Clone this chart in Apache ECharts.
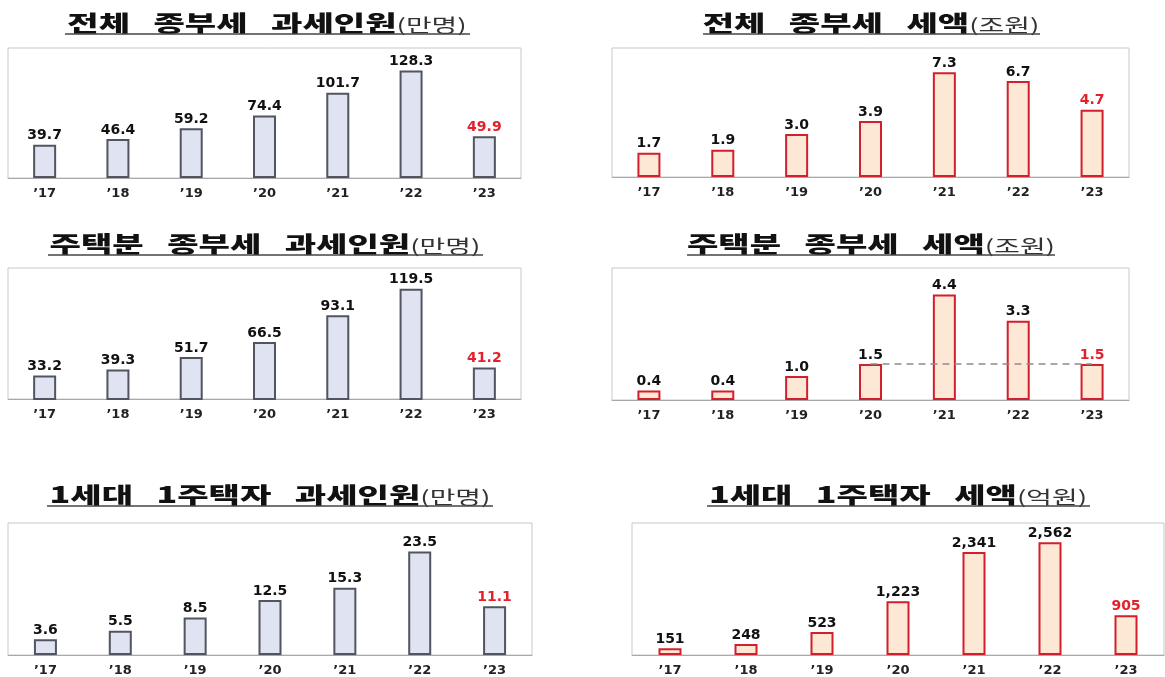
<!DOCTYPE html>
<html>
<head>
<meta charset="utf-8">
<script src="https://cdn.jsdelivr.net/npm/echarts@6/dist/echarts.min.js"></script>
<style>
  html, body { margin: 0; padding: 0; background: #fff; }
  #chart { width: 1165px; height: 677px; }
</style>
</head>
<body>
<div id="chart"></div>
<script>
// 연도
const years = ['\u201917', '\u201918', '\u201919', '\u201920', '\u201921', '\u201922', '\u201923']

// 값
const totalPeople = [39.7, 46.4, 59.2, 74.4, 101.7, 128.3, 49.9]   // 만명
const totalTax = [1.7, 1.9, 3.0, 3.9, 7.3, 6.7, 4.7]              // 조원
const housePeople = [33.2, 39.3, 51.7, 66.5, 93.1, 119.5, 41.2]    // 만명
const houseTax = [0.4, 0.4, 1.0, 1.5, 4.4, 3.3, 1.5]               // 조원
const onePeople = [3.6, 5.5, 8.5, 12.5, 15.3, 23.5, 11.1]          // 만명
const oneTax = [151, 248, 523, 1223, 2341, 2562, 905]              // 억원

const titles = [
  ['전체   종부세   과세인원', '(만명)'],
  ['전체   종부세   세액', '(조원)'],
  ['주택분   종부세   과세인원', '(만명)'],
  ['주택분   종부세   세액', '(조원)'],
  ['1세대   1주택자   과세인원', '(만명)'],
  ['1세대   1주택자   세액', '(억원)']
]

const chart = echarts.init(document.getElementById('chart'))

const grids = [
  {left: 8, top: 48, width: 513, height: 130},
  {left: 612, top: 48, width: 517, height: 129},
  {left: 8, top: 268, width: 513, height: 131},
  {left: 612, top: 268, width: 517, height: 132},
  {left: 8, top: 523, width: 524, height: 135},
  {left: 632, top: 523, width: 532, height: 135}
]
const yRanges = [[0, 155], [0, 9], [10, 140], [0, 5.5], [0, 30], [0, 3000]]
const values = [totalPeople, totalTax, housePeople, houseTax, onePeople, oneTax]

// 제목 위치 (가운데 x, 글자 y, 밑줄 y, 밑줄 시작, 밑줄 끝)
const titlePos = [
  [267, 23, 34, 65, 470],
  [871, 23, 34, 703, 1040],
  [265, 244, 255, 48, 483],
  [871, 244, 255, 687, 1055],
  [270, 495, 506, 47, 493],
  [898, 495, 506, 707, 1090]
]

const blueBar = {color: '#dfe3f2', borderColor: '#50555f', borderWidth: 2}
const redBar = {color: '#fde8d5', borderColor: '#d21f2d', borderWidth: 2}

function fmt(i, v) {
  if (i === 5) return v.toLocaleString('en-US')
  return v.toFixed(1)
}

const graphic = []
titlePos.forEach((p, i) => {
  graphic.push({
    type: 'text',
    x: p[0],
    y: p[1],
    scaleX: 1.55,
    z: 10,
    style: {
      text: '{m|' + titles[i][0] + '}{s|' + titles[i][1] + '}',
      align: 'center',
      verticalAlign: 'middle',
      textAlign: 'center',
      textVerticalAlign: 'middle',
      rich: {
        m: {fontSize: 22, fontWeight: 900, fontFamily: 'Noto Sans CJK KR', fill: '#111', verticalAlign: 'bottom'},
        s: {fontSize: 18, fontFamily: 'Noto Sans CJK KR', fill: '#333', verticalAlign: 'bottom'}
      }
    }
  })
  graphic.push({
    type: 'line',
    z: 10,
    shape: {x1: p[3], y1: p[2], x2: p[4], y2: p[2]},
    style: {stroke: '#444', lineWidth: 1.5}
  })
})

const series = values.map((vals, i) => {
  const s = {
    type: 'bar',
    xAxisIndex: i,
    yAxisIndex: i,
    barWidth: 23,
    itemStyle: i % 2 === 0 ? blueBar : redBar,
    label: {
      show: true,
      position: 'top',
      distance: 2,
      fontFamily: 'DejaVu Sans',
      fontWeight: 'bold',
      fontSize: 14,
      color: '#111',
      formatter: p => fmt(i, p.value)
    },
    data: vals.map((v, k) => k === vals.length - 1 ? {value: v, label: {color: '#e3202b'}} : v)
  }
  if (i === 3) {
    s.markLine = {
      silent: true,
      symbol: 'none',
      label: {show: false},
      lineStyle: {color: '#8c8c8c', type: [7, 5], width: 1.5},
      data: [[{coord: [3, vals[3]]}, {coord: [6, vals[6]]}]]
    }
  }
  return s
})

chart.setOption({
  backgroundColor: '#fff',
  animation: false,
  graphic: graphic,
  grid: grids.map(g => Object.assign({show: true, borderColor: '#c8c8c8', borderWidth: 1, containLabel: false}, g)),
  xAxis: grids.map((g, i) => ({
    type: 'category',
    gridIndex: i,
    data: years,
    axisLine: {lineStyle: {color: '#a8a8a8', width: 1}},
    axisTick: {show: false},
    axisLabel: {fontFamily: 'DejaVu Sans', fontWeight: 'bold', fontSize: 13, color: '#222', margin: 9}
  })),
  yAxis: grids.map((g, i) => ({
    type: 'value',
    gridIndex: i,
    min: yRanges[i][0],
    max: yRanges[i][1],
    show: false,
    splitLine: {show: false}
  })),
  series: series
})
</script>
</body>
</html>
